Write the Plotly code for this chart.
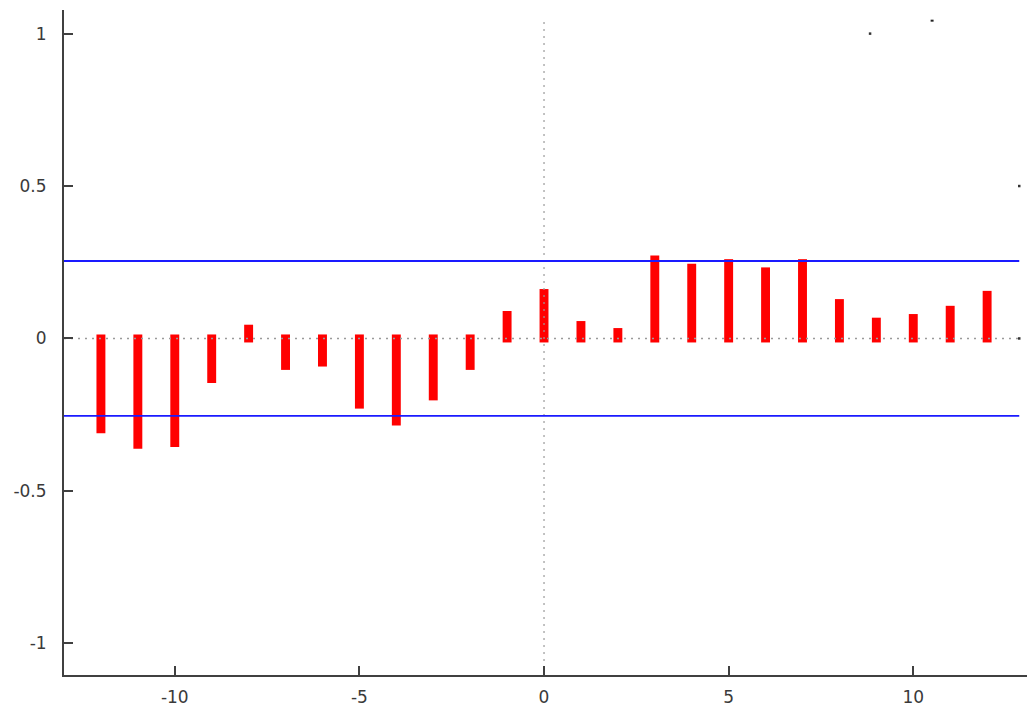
import plotly.graph_objects as go

# Lags and cross-correlation values
lags = list(range(-12, 13))
ccf = [-0.298, -0.349, -0.343, -0.133, 0.032, -0.090, -0.079, -0.217, -0.272,
       -0.190, -0.090, 0.077, 0.149, 0.044, 0.021, 0.259, 0.232, 0.247,
       0.220, 0.247, 0.116, 0.055, 0.067, 0.094, 0.143]
conf_bound = 0.254

x_ticks = [-10, -5, 0, 5, 10]
y_ticks = [-1, -0.5, 0, 0.5, 1]
y_tick_text = ["-1", "-0.5", "0", "0.5", "1"]

X_RANGE = [-13.0, 13.08]
Y_RANGE = [-1.104, 1.0775]
LINE_END = 12.87

fig = go.Figure()

# zero reference line (dotted)
fig.add_trace(go.Scatter(x=[X_RANGE[0], LINE_END], y=[0, 0], mode="lines",
                         line=dict(color="#9a9a9a", width=1.5, dash="2px,5px"),
                         hoverinfo="skip", showlegend=False))
# vertical reference at lag 0
fig.add_trace(go.Scatter(x=[0, 0], y=[Y_RANGE[0], 1.04], mode="lines",
                         line=dict(color="#9a9a9a", width=1.2, dash="2px,5px"),
                         hoverinfo="skip", showlegend=False))

# impulses
fig.add_trace(go.Bar(x=lags, y=ccf, width=0.025,
                     marker=dict(color="#ff0000", line=dict(color="#ff0000", width=8)),
                     showlegend=False))

# confidence bounds
for b in (conf_bound, -conf_bound):
    fig.add_trace(go.Scatter(x=[X_RANGE[0], LINE_END], y=[b, b], mode="lines",
                             line=dict(color="#1a1aff", width=1.9),
                             hoverinfo="skip", showlegend=False))

# small stray marks seen at the edges
fig.add_trace(go.Scatter(x=[LINE_END, LINE_END, 8.83], y=[0.5, 0, 1.0],
                         mode="markers",
                         marker=dict(color="#333", size=2.5, symbol="square"),
                         hoverinfo="skip", showlegend=False))
fig.add_trace(go.Scatter(x=[10.47, 10.55], y=[1.0425, 1.0425], mode="lines",
                         line=dict(color="#222", width=2),
                         hoverinfo="skip", showlegend=False))

fig.update_layout(
    width=1031, height=710,
    margin=dict(l=64, r=4, t=10, b=35),
    paper_bgcolor="white", plot_bgcolor="white",
    font=dict(family="DejaVu Sans", size=17, color="#3a3a3a"),
    bargap=0.1,
    xaxis=dict(range=X_RANGE, tickvals=x_ticks, ticktext=[str(v) for v in x_ticks],
               showgrid=False, zeroline=False, showline=True, linecolor="#404040",
               linewidth=2, ticks="inside", ticklen=9, tickwidth=1.5, tickcolor="#404040",
               ticklabelstandoff=6, fixedrange=True, automargin=False),
    yaxis=dict(range=Y_RANGE, tickvals=y_ticks, ticktext=y_tick_text,
               showgrid=False, zeroline=False, showline=True, linecolor="#404040",
               linewidth=2, ticks="inside", ticklen=9, tickwidth=1.5, tickcolor="#404040",
               ticklabelstandoff=12, fixedrange=True, automargin=False),
)

fig.write_html("out.html", config={"displayModeBar": False},
               post_script="document.body.style.margin='0px';")
